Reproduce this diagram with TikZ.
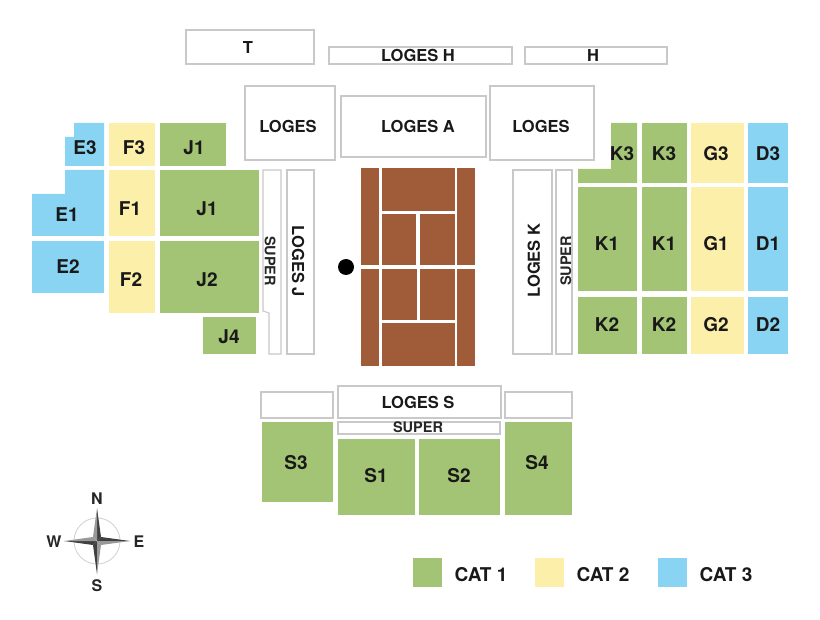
\documentclass[tikz,border=0pt]{standalone}
\usepackage{fontspec}
\setmainfont{TeX Gyre Heros}
\definecolor{catgreen}{HTML}{A2C474}
\definecolor{catyellow}{HTML}{FBEFAA}
\definecolor{catblue}{HTML}{89D3F3}
\definecolor{clay}{HTML}{A05C38}
\definecolor{boxline}{HTML}{C9C9C9}
\tikzset{
  lab/.style={font=\bfseries\fontsize{19}{20}\selectfont,text=black!90,inner sep=0pt,text height=13.6pt,text depth=0pt,yshift=-0.5pt},
  logelab/.style={font=\bfseries\fontsize{16.5}{17}\selectfont,text=black!90,inner sep=0pt,text height=11.8pt,text depth=0pt,yshift=-0.5pt},
  smalllab/.style={font=\bfseries\fontsize{14.5}{15}\selectfont,text=black!85,inner sep=0pt,text height=10.4pt,text depth=0pt},
  complab/.style={font=\bfseries\fontsize{16}{17}\selectfont,text=black!85,inner sep=0pt,text height=11.5pt,text depth=0pt},
  green/.style={fill=catgreen},
  yellow/.style={fill=catyellow},
  blue/.style={fill=catblue},
  court/.style={fill=clay},
  loge/.style={draw=boxline,line width=1.3pt,fill=white},
}
% \zone{style}{x1}{y1}{x2}{y2}
\newcommand{\zone}[5]{\path[#1] (#2,#3) rectangle (#4,#5);}
\begin{document}
\begin{tikzpicture}[x=1pt,y=-1pt]
\useasboundingbox (0,0) rectangle (820,620);
\fill[white] (0,0) rectangle (820,620);
% top boxes
\zone{loge}{186}{30}{314}{64}
\zone{loge}{329}{47}{512}{64}
\zone{loge}{525}{47}{667}{64}
\zone{loge}{245}{86}{335}{160}
\zone{loge}{341}{96}{486}{157}
\zone{loge}{490}{86}{594}{160}
% west
\path[blue] (74,123) -- (104,123) -- (104,166) -- (65,166) -- (65,137) -- (74,137) -- cycle;
\path[blue] (65,170) -- (104,170) -- (104,236) -- (32,236) -- (32,194) -- (65,194) -- cycle;
\zone{blue}{32}{241}{104}{293}
\zone{yellow}{109}{123}{155}{166}
\zone{yellow}{109}{170}{155}{236}
\zone{yellow}{109}{241}{155}{313}
\zone{green}{160}{123}{226}{166}
\zone{green}{160}{170}{259}{236}
\zone{green}{160}{241}{259}{313}
\zone{green}{203}{317}{256}{354}
\path[draw=boxline,line width=1.1pt,fill=white] (263,170) -- (281,170) -- (281,354) -- (269,354) -- (269,313) -- (263,311) -- cycle;
\zone{loge}{287}{170}{314}{354}
% court
\zone{court}{361}{168}{379}{265}
\zone{court}{361}{269}{379}{366}
\zone{court}{457}{168}{475}{265}
\zone{court}{457}{269}{475}{366}
\zone{court}{382}{168}{455}{211}
\zone{court}{382}{214}{416}{265}
\zone{court}{420}{214}{455}{265}
\zone{court}{382}{269}{417}{320}
\zone{court}{420}{269}{455}{320}
\zone{court}{382}{323}{455}{366}
\fill[black] (346,267) circle (8);
% east
\zone{loge}{513}{170}{552}{354}
\zone{loge}{556}{170}{572}{354}
\path[green] (611,123) -- (637,123) -- (637,183) -- (578,183) -- (578,169) -- (611,169) -- cycle;
\zone{green}{642}{123}{687}{183}
\zone{yellow}{691}{123}{744}{183}
\zone{blue}{748}{123}{788}{183}
\zone{green}{578}{187}{637}{291}
\zone{green}{642}{187}{687}{291}
\zone{yellow}{691}{187}{744}{291}
\zone{blue}{748}{187}{788}{291}
\zone{green}{578}{297}{637}{354}
\zone{green}{642}{297}{687}{354}
\zone{yellow}{691}{297}{744}{354}
\zone{blue}{748}{297}{788}{354}
% south
\zone{loge}{261}{392}{333}{418}
\zone{loge}{338}{386}{501}{418}
\zone{loge}{505}{392}{572}{418}
\path[draw=boxline,line width=1.1pt,fill=white] (338,422) rectangle (500,434);
\zone{green}{262}{422}{333}{502}
\zone{green}{338}{439}{415}{515}
\zone{green}{419}{439}{500}{515}
\zone{green}{505}{422}{572}{515}
% labels
\node[logelab] (t) at (248,47) {T};
\node[logelab] (logesh) at (418,55.5) {LOGES H};
\node[logelab] (h) at (593,55.5) {H};
\node[logelab] (logesw) at (288,126) {LOGES};
\node[logelab] (logesa) at (418,126) {LOGES A};
\node[logelab] (logese) at (541,126) {LOGES};
\node[lab] (e3) at (85,147) {E3};
\node[lab] (f3) at (134,147) {F3};
\node[lab] (j1a) at (194,147) {J1};
\node[lab] (e1) at (67,214) {E1};
\node[lab] (f1) at (130,208) {F1};
\node[lab] (j1b) at (207,208) {J1};
\node[lab] (e2) at (68,266) {E2};
\node[lab] (f2) at (131,279) {F2};
\node[lab] (j2) at (207,279) {J2};
\node[lab] (j4) at (229,336) {J4};
\node[smalllab,rotate=-90] (superw) at (270,261) {SUPER};
\node[logelab,rotate=-90] (logesj) at (298,261) {LOGES J};
\node[logelab,rotate=90] (logesk) at (534,260) {LOGES K};
\node[smalllab,rotate=90] (supere) at (566,261) {SUPER};
\node[lab] (k3a) at (622,153) {K3};
\node[lab] (k3b) at (664,153) {K3};
\node[lab] (g3) at (716,153) {G3};
\node[lab] (d3) at (768,153) {D3};
\node[lab] (k1a) at (607,243) {K1};
\node[lab] (k1b) at (664,243) {K1};
\node[lab] (g1) at (716,243) {G1};
\node[lab] (d1) at (768,243) {D1};
\node[lab] (k2a) at (607,324) {K2};
\node[lab] (k2b) at (664,324) {K2};
\node[lab] (g2) at (716,324) {G2};
\node[lab] (d2) at (768,324) {D2};
\node[logelab] (logess) at (418,402) {LOGES S};
\node[smalllab] (supers) at (418,427.5) {SUPER};
\node[lab] (s3) at (296,462) {S3};
\node[lab] (s1) at (376,475) {S1};
\node[lab] (s2) at (459,475) {S2};
\node[lab] (s4) at (537,462) {S4};
% compass
\draw[black!18,line width=0.8pt] (97,541) circle (23);
\fill[black!75] (97,508) -- (101,537) -- (97,541) -- cycle;
\fill[black!40] (97,508) -- (93,537) -- (97,541) -- cycle;
\fill[black!75] (97,574) -- (93,545) -- (97,541) -- cycle;
\fill[black!40] (97,574) -- (101,545) -- (97,541) -- cycle;
\fill[black!75] (64,541) -- (93,545) -- (97,541) -- cycle;
\fill[black!40] (64,541) -- (93,537) -- (97,541) -- cycle;
\fill[black!75] (130,541) -- (101,537) -- (97,541) -- cycle;
\fill[black!40] (130,541) -- (101,545) -- (97,541) -- cycle;
\node[complab] (n) at (97,498.5) {N};
\node[complab] (s) at (97,585.5) {S};
\node[complab] (w) at (54,541.5) {W};
\node[complab] (e) at (139,541.5) {E};
% legend
\zone{green}{413}{558}{442}{587}
\zone{yellow}{535}{558}{564}{587}
\zone{blue}{658}{558}{687}{587}
\node[lab] (cat1) at (481,574) {CAT 1};
\node[lab] (cat2) at (603,574) {CAT 2};
\node[lab] (cat3) at (726,574) {CAT 3};
\end{tikzpicture}
\end{document}
